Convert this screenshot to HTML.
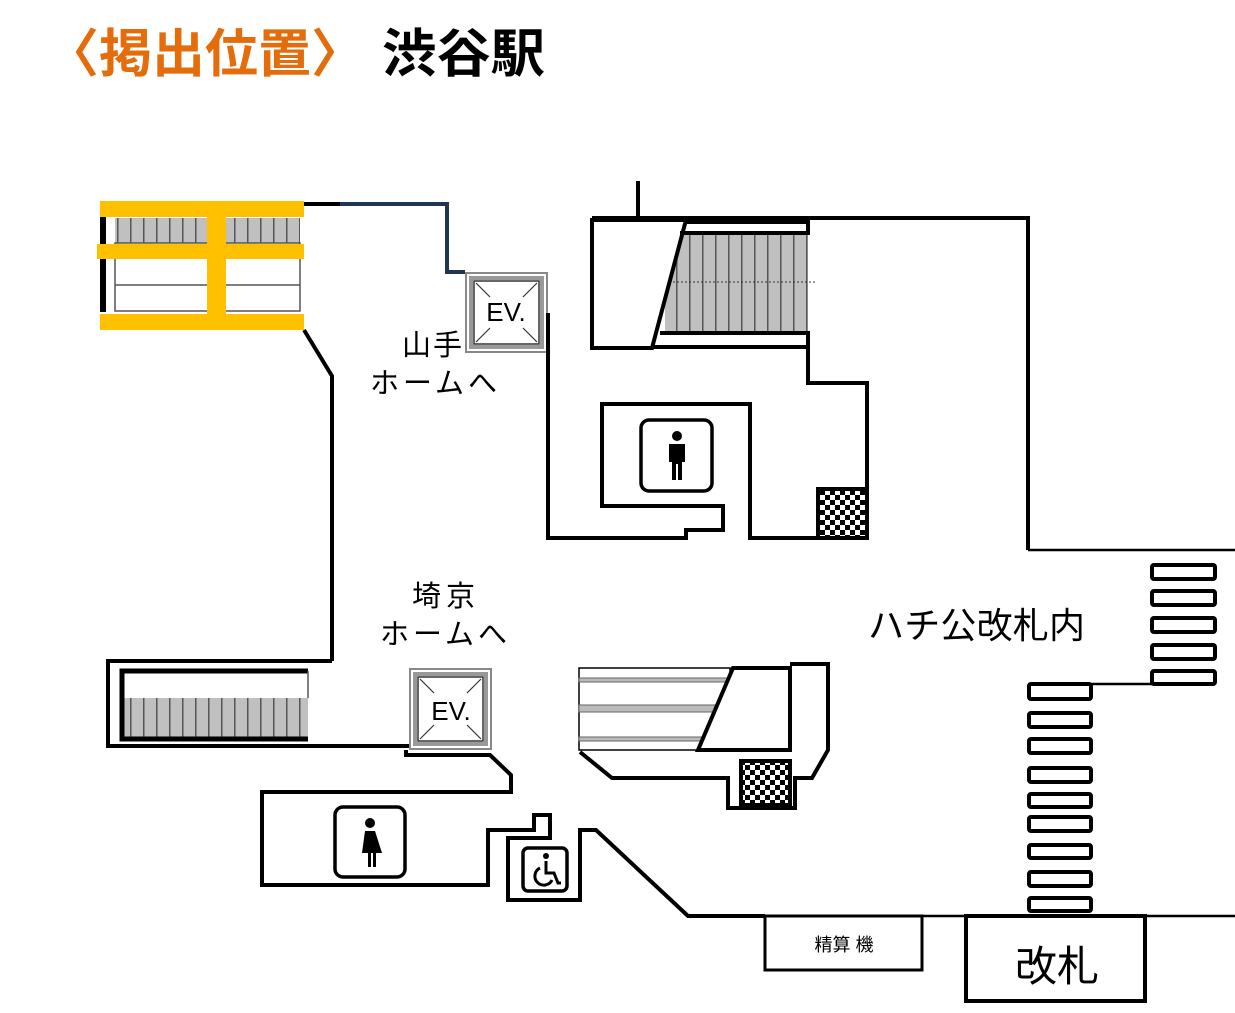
<!DOCTYPE html>
<html><head><meta charset="utf-8"><style>
body{margin:0;background:#fff}
svg{display:block}
text{font-family:"Liberation Sans","Noto Sans CJK JP",sans-serif}
</style></head><body>
<svg width="1235" height="1013" viewBox="0 0 1235 1013" xmlns="http://www.w3.org/2000/svg">
<defs>
<pattern id="chk" width="10" height="10" patternUnits="userSpaceOnUse">
<rect width="10" height="10" fill="#fff"/><rect width="5" height="5" fill="#000"/><rect x="5" y="5" width="5" height="5" fill="#000"/>
</pattern>
<pattern id="stepV" width="13" height="10" patternUnits="userSpaceOnUse">
<rect width="13" height="10" fill="#c0c0c0"/><rect width="1.5" height="10" fill="#555"/>
</pattern>
</defs>
<text x="46" y="72" font-size="52" font-weight="bold" fill="#E46C0A" textLength="318" lengthAdjust="spacingAndGlyphs">〈掲出位置〉</text>
<text x="382" y="72" font-size="52" font-weight="bold" fill="#000" textLength="163" lengthAdjust="spacingAndGlyphs">渋谷駅</text>

<g fill="none" stroke="#000" stroke-width="4" stroke-linejoin="miter">
<rect x="115" y="218" width="185" height="25" fill="url(#stepV)" stroke="none"/>
<rect x="115" y="243" width="185" height="68" fill="#fff" stroke="#555" stroke-width="1.5"/>
<line x1="115" y1="285" x2="300" y2="285" stroke="#555" stroke-width="1.5"/>
<line x1="103" y1="215" x2="103" y2="312" stroke-width="6"/>
<polyline points="304,204 340,204"/>
<polyline points="340,204 447,204 447,272 465,272" stroke="#1F3550"/>
<polyline points="304,330 332,376 332,661"/>
<rect x="466" y="273" width="81" height="79" fill="#fff" stroke="#888" stroke-width="2"/>
<rect x="471" y="278" width="71" height="69" fill="#fff" stroke="#999" stroke-width="4"/>
<rect x="474" y="281" width="65" height="63" stroke="#333" stroke-width="1.5"/>
<g stroke="#333" stroke-width="1.2"><line x1="476" y1="283" x2="490" y2="297"/><line x1="537" y1="283" x2="523" y2="297"/><line x1="476" y1="342" x2="490" y2="328"/><line x1="537" y1="342" x2="523" y2="328"/></g>
<polyline points="548,313 548,538 686,538 686,530 723,530 723,506 602,506 602,404 750,404 750,538 867,538 867,383 808,383 808,348"/>
<line x1="638" y1="181" x2="638" y2="218"/>
<polyline points="592,218 1028,218 1028,550"/>
<line x1="1028" y1="550" x2="1235" y2="550" stroke-width="2.5"/>
<rect x="665" y="233" width="143" height="99" fill="url(#stepV)" stroke="none"/>
<line x1="665" y1="282" x2="816" y2="282" stroke="#333" stroke-width="1" stroke-dasharray="2,2"/>
<polygon points="592,220 686,220 652,348 592,348" fill="#fff"/>
<polyline points="686,222 808,222 808,233 680,233"/>
<polyline points="660,333 808,333 808,347 652,347"/>
<rect x="818" y="489" width="49" height="49" fill="url(#chk)"/>
<rect x="641" y="420" width="71" height="71" rx="8" stroke-width="3.5"/>
<polyline points="332,661 108,661 108,746 312,746 410,746"/>
<rect x="122" y="698" width="186" height="39" fill="url(#stepV)" stroke="none"/>
<polyline points="308,671 122,671 122,739 308,739" stroke-width="5"/>
<line x1="308" y1="671" x2="308" y2="698" stroke="#555" stroke-width="1.5"/>
<rect x="410" y="669" width="81" height="80" fill="#fff" stroke="#888" stroke-width="2"/>
<rect x="415" y="674" width="71" height="70" fill="#fff" stroke="#999" stroke-width="4"/>
<rect x="418" y="677" width="65" height="64" stroke="#333" stroke-width="1.5"/>
<g stroke="#333" stroke-width="1.2"><line x1="420" y1="679" x2="434" y2="693"/><line x1="481" y1="679" x2="467" y2="693"/><line x1="420" y1="739" x2="434" y2="725"/><line x1="481" y1="739" x2="467" y2="725"/></g>
<polyline points="406,750 406,755 490,755 511,775 511,792 262,792 262,885 488,885 488,830 534,830 534,815 550,815 550,838 508,838 508,900 580,900 580,830 596,830 688,916 765,916"/>
<line x1="922" y1="916" x2="1235" y2="916" stroke-width="2.5"/>
<rect x="335" y="807" width="70" height="70" rx="8" stroke-width="3.5"/>
<rect x="523" y="848" width="44" height="43" rx="5" stroke-width="3.5"/>
<rect x="579" y="668" width="151" height="82" fill="#fff" stroke-width="1.5"/>
<rect x="579" y="678" width="151" height="4" fill="#bbb" stroke="#666" stroke-width="1"/>
<rect x="579" y="705" width="151" height="7" fill="#bbb" stroke="#666" stroke-width="1"/>
<rect x="579" y="737" width="151" height="4" fill="#bbb" stroke="#666" stroke-width="1"/>
<polygon points="733,668 790,668 790,750 698,750" fill="#fff"/>
<polyline points="790,664 828,664 828,750 812,778 795,778 795,808 728,808 728,778 612,778 580,752"/>
<rect x="741" y="761" width="49" height="44" fill="url(#chk)"/>
<g stroke-width="4">
<rect x="1152" y="565" width="63" height="14" rx="2"/><rect x="1152" y="591" width="63" height="14" rx="2"/><rect x="1152" y="618" width="63" height="14" rx="2"/><rect x="1152" y="645" width="63" height="14" rx="2"/><rect x="1152" y="671" width="63" height="13" rx="2"/>
<rect x="1029" y="684" width="62" height="15" rx="2"/><rect x="1029" y="713" width="62" height="14" rx="2"/><rect x="1029" y="739" width="62" height="14" rx="2"/><rect x="1029" y="768" width="62" height="14" rx="2"/><rect x="1029" y="794" width="62" height="13" rx="2"/><rect x="1029" y="817" width="62" height="14" rx="2"/><rect x="1029" y="845" width="62" height="13" rx="2"/><rect x="1029" y="872" width="62" height="14" rx="2"/><rect x="1029" y="898" width="62" height="13" rx="2"/>
</g>
<line x1="1091" y1="684" x2="1152" y2="684" stroke-width="2.5"/>
<rect x="966" y="916" width="179" height="85"/>
<rect x="765" y="916" width="157" height="54" stroke-width="3"/>
</g>
<g fill="#000">
<circle cx="677" cy="436" r="5"/>
<path d="M669,444 h16 v18 h-3 v18 h-4 v-16 h-2 v16 h-4 v-18 h-3z"/>
<circle cx="370" cy="823" r="5"/>
<path d="M365,831 h10 l7,22 h-6 v14 h-3 v-14 h-2 v14 h-3 v-14 h-6z"/>
<circle cx="546" cy="856" r="3"/>
</g>
<g fill="none" stroke="#000" stroke-width="3">
<path d="M546,861 v12 h8 l4,10 h3"/>
<path d="M540,868 a9,9 0 1 0 12,12"/>
</g>
<g fill="#000">
<text x="506" y="321" font-size="26" text-anchor="middle">EV.</text>
<text x="451" y="720" font-size="26" text-anchor="middle">EV.</text>
<text x="402" y="355" font-size="29" textLength="60">山手</text>
<text x="370" y="393" font-size="29" textLength="127">ホームへ</text>
<text x="412" y="606" font-size="29" textLength="63">埼京</text>
<text x="380" y="644" font-size="29" textLength="127">ホームへ</text>
<text x="868" y="638" font-size="36" textLength="217">ハチ公改札内</text>
<text x="1057" y="981" font-size="42" text-anchor="middle">改札</text>
<text x="844" y="951" font-size="18" text-anchor="middle">精算 機</text>
</g>
<g fill="#FFC000">
<rect x="100" y="201" width="204" height="16"/>
<rect x="97" y="244" width="207" height="15"/>
<rect x="100" y="314" width="204" height="16"/>
<rect x="207" y="201" width="19" height="129"/>
</g>
</svg>
</body></html>
